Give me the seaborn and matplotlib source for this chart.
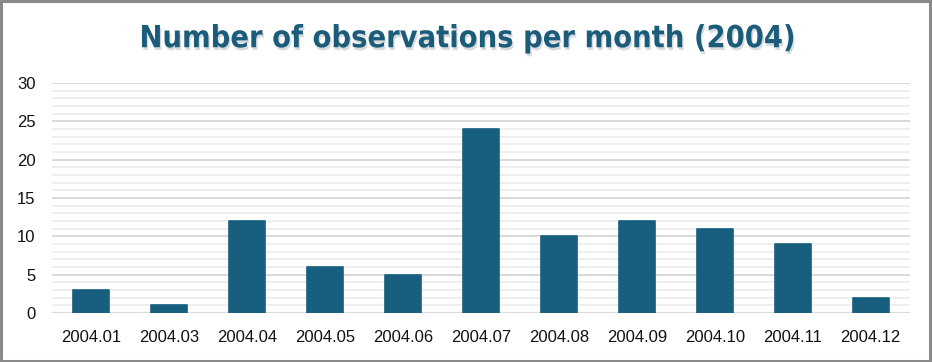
import matplotlib
matplotlib.use("Agg")
import matplotlib.pyplot as plt
import matplotlib.patheffects as pe
from matplotlib.patches import Rectangle
from matplotlib import font_manager
import seaborn as sns
import pandas as pd

months = ["2004.01", "2004.03", "2004.04", "2004.05", "2004.06", "2004.07",
          "2004.08", "2004.09", "2004.10", "2004.11", "2004.12"]
counts = [3, 1, 12, 6, 5, 24, 10, 12, 11, 9, 2]
yticks = [0, 5, 10, 15, 20, 25, 30]

df = pd.DataFrame({"month": months, "count": counts})

sns.set_theme(style="white")
plt.rcParams["font.family"] = ["Liberation Sans", "DejaVu Sans"]

cond = [f for f in font_manager.fontManager.ttflist
        if ("Condensed" in f.fname or "Narrow" in f.fname) and f.weight in ("bold", 700)]

fig = plt.figure(figsize=(9.32, 3.62), dpi=100)
ax = fig.add_axes([0.056, 0.135, 0.92, 0.636])

bar_color = "#175e7f"
sns.barplot(data=df, x="month", y="count", color=bar_color, saturation=1,
            width=0.46, ax=ax, zorder=3)
for p in ax.patches:
    p.set_edgecolor(bar_color)
    p.set_linewidth(1.2)
    p.set_joinstyle("round")

ax.set_ylim(0, 30)
ax.set_yticks(yticks)
ax.set_yticks(range(0, 31), minor=True)
ax.grid(axis="y", which="minor", color="#ececec", linewidth=1.2, zorder=0)
ax.grid(axis="y", which="major", color="#d9d9d9", linewidth=1.4, zorder=1)
ax.set_axisbelow(True)
for s in ax.spines.values():
    s.set_visible(False)
ax.axhline(0, color="#d9d9d9", linewidth=1.6, zorder=2)
ax.tick_params(axis="both", which="both", length=0, labelsize=12,
               colors="#111111")
ax.tick_params(axis="y", pad=12)
ax.tick_params(axis="x", pad=12)
ax.set_xlabel("")
ax.set_ylabel("")

if cond:
    fp = font_manager.FontProperties(fname=cond[0].fname, size=22)
else:
    fp = font_manager.FontProperties(family="DejaVu Sans", weight="bold",
                                     stretch="condensed", size=22)
fig.text(0.5, 0.893, "Number of observations per month (2004)",
         ha="center", va="center", fontproperties=fp, color="#1b5c7a",
         path_effects=[pe.SimplePatchShadow(offset=(1, -2), shadow_rgbFace="#b0b8bd", alpha=0.5),
                       pe.Normal()])

fig.patches.append(Rectangle((0.001, 0.002), 0.997, 0.995, transform=fig.transFigure,
                             fill=False, edgecolor="#8a8a8a", linewidth=2.2))

fig.savefig("out.png", dpi=100)
